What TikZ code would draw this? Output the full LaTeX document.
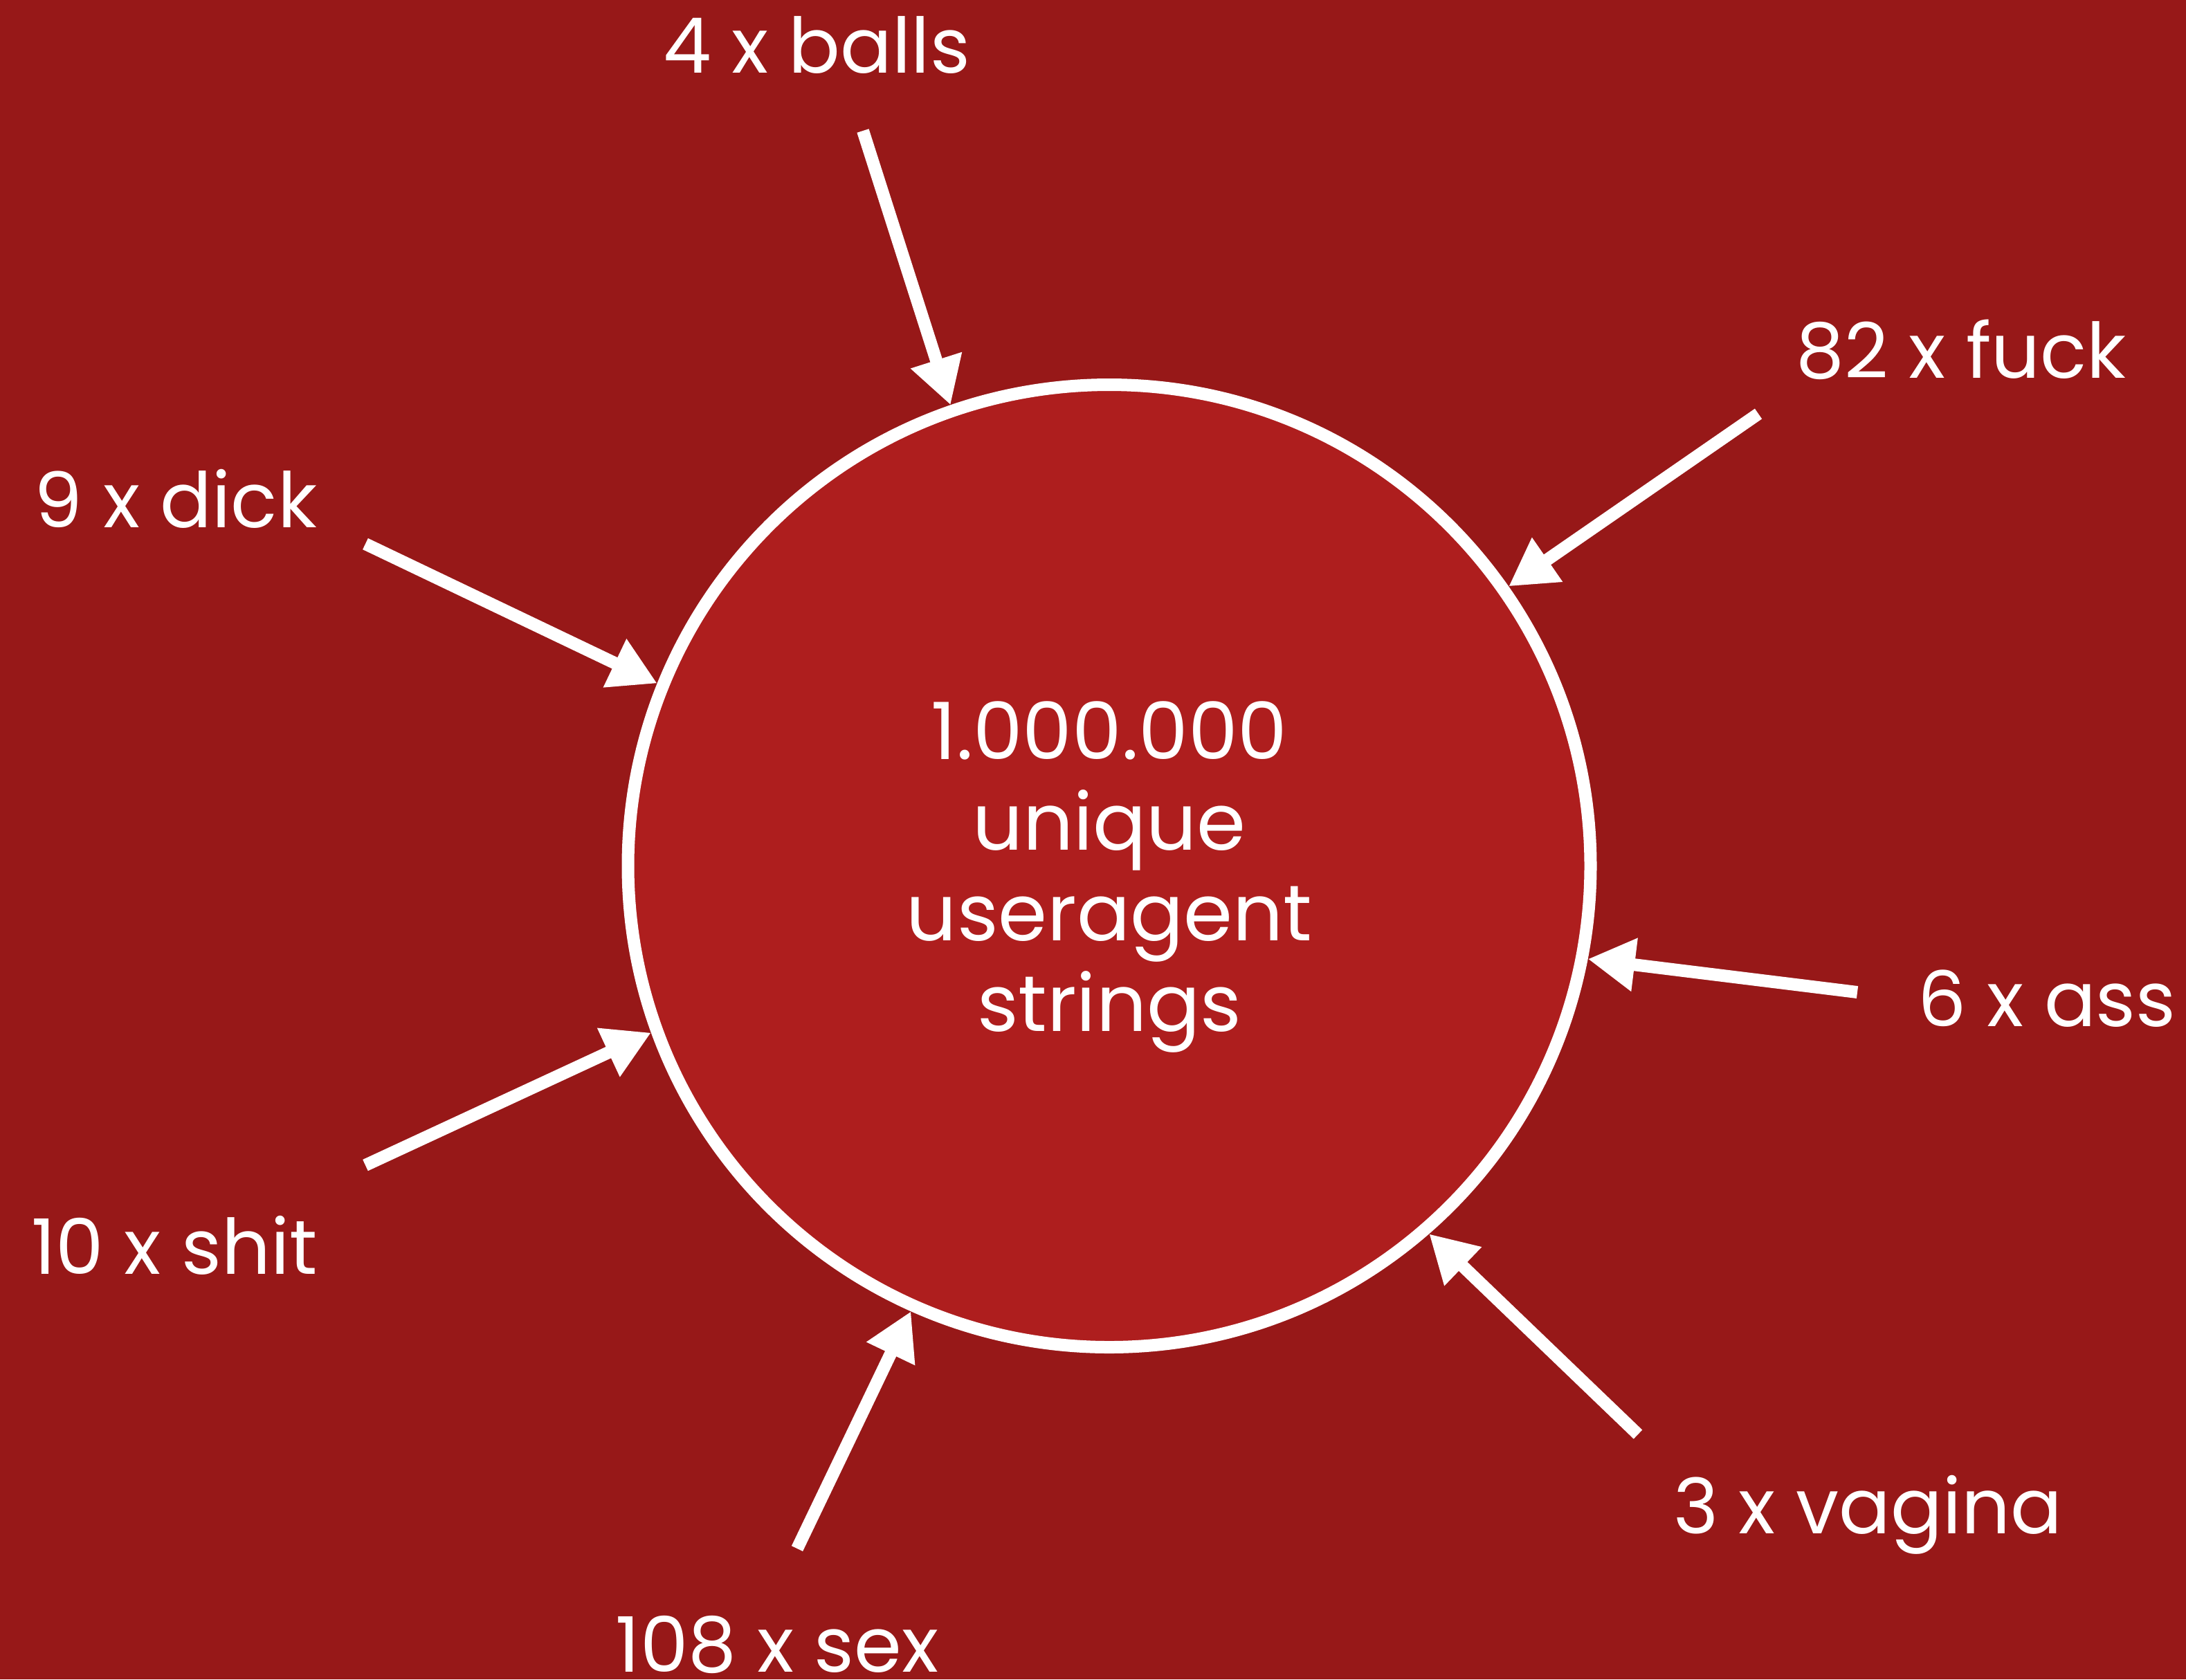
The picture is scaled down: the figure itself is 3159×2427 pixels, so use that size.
\documentclass[tikz,border=0pt]{standalone}
\usepackage{fontspec}
\setmainfont{Poppins}
\usetikzlibrary{arrows.meta}
\definecolor{slidered}{RGB}{151,24,24}
\definecolor{poolred}{RGB}{174,30,30}

\begin{document}
\begin{tikzpicture}[x=0.1mm, y=-0.1mm,
    word/.style={text=white, font=\fontsize{31.5pt}{37pt}\selectfont, inner sep=0pt, anchor=base},
    hit/.style={draw=white, line width=1.8mm, -{Triangle[length=6.8mm, width=7.3mm]}}]
  \fill[slidered] (0,0) rectangle (3159,2427);
  \node[circle, draw=white, fill=poolred, line width=1.8mm, minimum size=139.1mm, inner sep=0pt]
    (pool) at (1603,1251.5) {};
  \node[word, align=center, anchor=north, font=\fontsize{32.5pt}{37.3pt}\selectfont]
    (total) at (1603,1013) {1.000.000\\unique\\useragent\\strings};

  \node[word] (balls) at (1180,105) {4 x balls};
  \node[word] (fuck) at (2834,546) {82 x fuck};
  \node[word] (dick) at (254,762) {9 x dick};
  \node[word] (shit) at (252,1841) {10 x shit};
  \node[word] (ass) at (2958,1483) {6 x ass};
  \node[word] (vagina) at (2699,2216) {3 x vagina};
  \node[word] (sex) at (1123,2416) {108 x sex};

  \coordinate (ballsend) at (1247,189);
  \coordinate (fuckend) at (2541,598);
  \coordinate (dickend) at (528,786);
  \coordinate (shitend) at (528,1684);
  \coordinate (assend) at (2684,1434);
  \coordinate (vaginaend) at (2367,2073);
  \coordinate (sexend) at (1152,2238);

  \draw[hit] (ballsend) -- (pool.109.2);
  \draw[hit] (fuckend) -- (pool.35);
  \draw[hit] (dickend) -- (pool.158.1);
  \draw[hit] (shitend) -- (pool.200.4);
  \draw[hit] (assend) -- (pool.349.1);
  \draw[hit] (vaginaend) -- (pool.311.7);
  \draw[hit] (sexend) -- (pool.246.9);
\end{tikzpicture}
\end{document}
